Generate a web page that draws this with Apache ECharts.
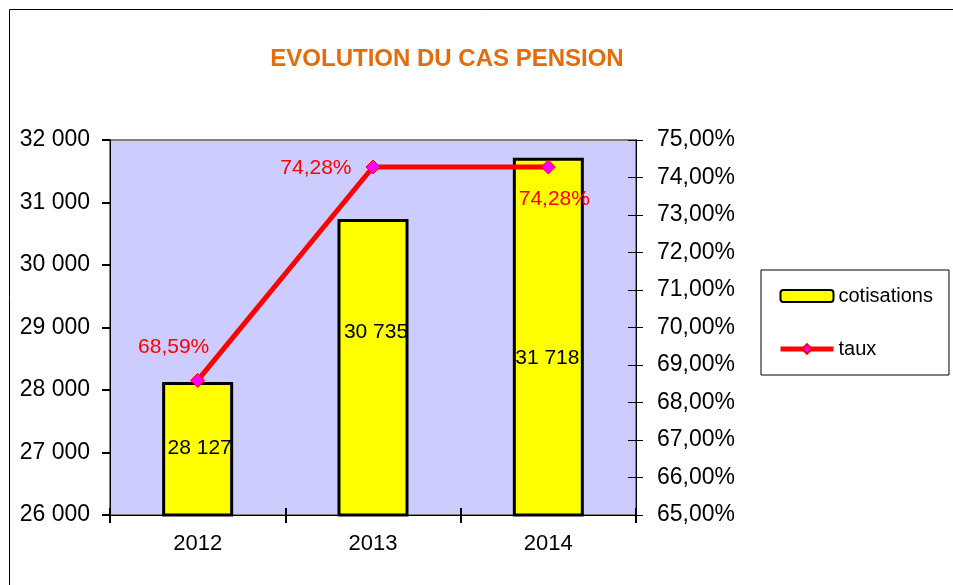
<!DOCTYPE html>
<html><head><meta charset="utf-8">
<script src="https://cdn.jsdelivr.net/npm/echarts@6/dist/echarts.min.js"></script>
<style>html,body{margin:0;padding:0;background:#fff}#c{width:953px;height:585px}</style>
</head><body><div id="c"></div>
<script>
var categories = ['2012', '2013', '2014'];
var cotisations = [28127, 30735, 31718];
var taux = [68.59, 74.28, 74.28];
var leftTicks = {min: 26000, max: 32000, interval: 1000};
var rightTicks = {min: 65, max: 75, interval: 1};

var FONT = '"Liberation Sans", Arial, sans-serif';
function fmtThousands(v){ return String(v).replace(/\B(?=(\d{3})+(?!\d))/g, ' '); }
function fmtPct(v){ return v.toFixed(2).replace('.', ',') + '%'; }

var barLabelOffsets = [[2, -1], [3, -36], [-1, 21]];
var lineLabelCfg = [
  {position: 'top', offset: [-24, -10]},
  {position: 'left', distance: 14, offset: [0, 1]},
  {position: 'bottom', distance: 14, offset: [6, 0]}
];

var chart = echarts.init(document.getElementById('c'), null, {renderer: 'canvas'});
var gridL = 110, gridT = 140, gridR = 953 - 636, gridB = 585 - 515;

chart.setOption({
  animation: false,
  textStyle: {fontFamily: FONT},
  title: {
    text: 'EVOLUTION DU CAS PENSION',
    left: 442, top: 42, textAlign: 'center',
    textStyle: {color: '#E46C0A', fontSize: 24, fontWeight: 'bold', fontFamily: FONT}
  },
  graphic: [{
    type: 'rect', silent: true,
    shape: {x: 9.5, y: 9.5, width: 1200, height: 1000},
    style: {fill: 'none', stroke: '#000', lineWidth: 1}
  }],
  legend: {
    orient: 'vertical', left: 761, top: 270,
    padding: [16, 16, 16, 17],
    borderColor: '#000', borderWidth: 1,
    itemWidth: 53, itemHeight: 12, itemGap: 33,
    textStyle: {fontSize: 20, color: '#000', fontFamily: FONT},
    data: [
      {name: 'cotisations'},
      {name: 'taux', lineStyle: {width: 5, color: '#FF0000'}}
    ]
  },
  grid: {
    left: gridL, top: gridT, right: gridR, bottom: gridB,
    show: true, backgroundColor: '#CCCCFF', borderColor: '#808080', borderWidth: 2
  },
  xAxis: [{
    type: 'category', data: categories, position: 'bottom',
    axisLine: {lineStyle: {color: '#000', width: 1}},
    axisTick: {show: true, length: 8, lineStyle: {color: '#000', width: 2}},
    axisLabel: {fontSize: 22, color: '#000', margin: 18, fontFamily: FONT}
  }, {
    type: 'category', data: categories, position: 'bottom',
    axisLine: {show: false},
    axisTick: {show: true, inside: true, length: 7, lineStyle: {color: '#000', width: 2}},
    axisLabel: {show: false}
  }],
  yAxis: [{
    type: 'value', position: 'left',
    min: leftTicks.min, max: leftTicks.max, interval: leftTicks.interval,
    axisLine: {show: true, lineStyle: {color: '#000', width: 1}},
    axisTick: {show: true, length: 8, lineStyle: {color: '#000', width: 2}},
    splitLine: {show: false},
    axisLabel: {fontSize: 23, color: '#000', margin: 20, fontFamily: FONT, formatter: fmtThousands}
  }, {
    type: 'value', position: 'right',
    min: rightTicks.min, max: rightTicks.max, interval: rightTicks.interval,
    axisLine: {show: true, lineStyle: {color: '#000', width: 1}},
    axisTick: {show: true, length: 7, lineStyle: {color: '#000', width: 1}},
    splitLine: {show: false},
    axisLabel: {fontSize: 23, color: '#000', margin: 21, fontFamily: FONT, formatter: fmtPct}
  }, {
    type: 'value', position: 'right',
    min: rightTicks.min, max: rightTicks.max, interval: rightTicks.interval,
    axisLine: {show: false},
    axisTick: {show: true, inside: true, length: 8, lineStyle: {color: '#000', width: 1}},
    splitLine: {show: false},
    axisLabel: {show: false}
  }],
  series: [{
    name: 'cotisations', type: 'bar', xAxisIndex: 0, yAxisIndex: 0,
    barWidth: 71,
    itemStyle: {color: '#FFFF00', borderColor: '#000', borderWidth: 3},
    data: cotisations.map(function(v, i){
      return {value: v, label: {offset: barLabelOffsets[i]}};
    }),
    label: {
      show: true, position: 'inside', color: '#000', fontSize: 21, fontFamily: FONT,
      formatter: function(p){ return fmtThousands(p.value); }
    },
    z: 2
  }, {
    name: 'taux', type: 'line', xAxisIndex: 0, yAxisIndex: 1,
    symbol: 'diamond', symbolSize: 14,
    lineStyle: {color: '#FF0000', width: 5},
    itemStyle: {color: '#FF00FF', borderColor: '#FF0000', borderWidth: 1},
    data: taux.map(function(v, i){
      return {value: v, label: lineLabelCfg[i]};
    }),
    label: {
      show: true, color: '#FF0000', fontSize: 21, fontFamily: FONT,
      formatter: function(p){ return fmtPct(p.value); }
    },
    z: 5
  }]
});
</script>
</body></html>
